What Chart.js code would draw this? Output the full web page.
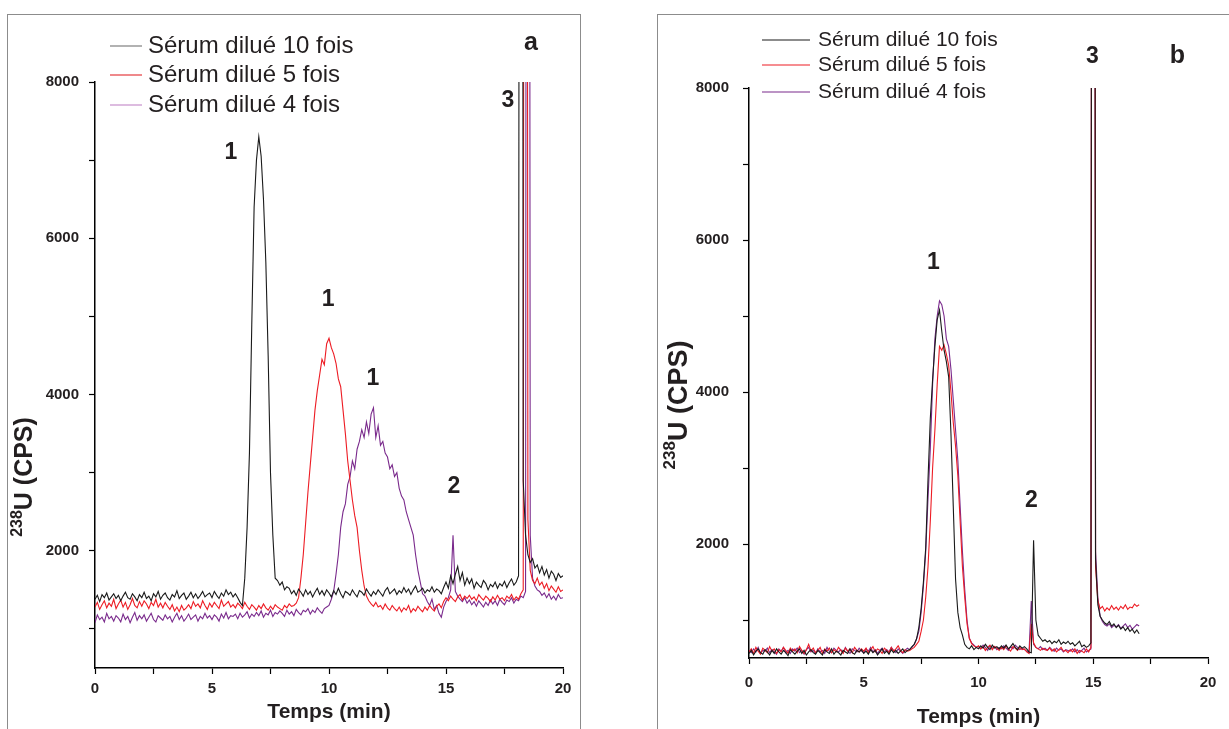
<!DOCTYPE html>
<html>
<head>
<meta charset="utf-8">
<script src="https://cdn.jsdelivr.net/npm/chart.js@4.4.1/dist/chart.umd.min.js"></script>
<style>
  body { margin: 0; background: #fff; width: 1229px; height: 729px; overflow: hidden; position: relative; }
  .panel { position: absolute; top: 14px; height: 740px; border: 1px solid #8c8c8c; }
  #panelA { left: 7px; width: 572px; }
  #panelB { left: 657px; width: 600px; }
  canvas { position: absolute; left: 0; top: 0; }
</style>
</head>
<body>
<div class="panel" id="panelA"><canvas id="chartA" width="570" height="714"></canvas></div>
<div class="panel" id="panelB"><canvas id="chartB" width="571" height="714"></canvas></div>
<script>
// sampling step of the chromatograms, minutes
const STEP = 0.1;
const SERIES = ['Sérum dilué 10 fois', 'Sérum dilué 5 fois', 'Sérum dilué 4 fois'];
const X_TICKS = [0, 2.5, 5, 7.5, 10, 12.5, 15, 17.5, 20];
const Y_TICKS = [1000, 2000, 3000, 4000, 5000, 6000, 7000, 8000];

// panel a, 0 - 20 min
const A_BLACK = [
    1380,1430,1350,1440,1400,1460,1370,1410,1450,1390,
    1430,1360,1420,1470,1400,1380,1450,1410,1360,1440,
    1400,1470,1390,1420,1360,1450,1410,1480,1380,1430,
    1460,1400,1370,1440,1410,1490,1390,1430,1460,1380,
    1420,1470,1400,1450,1390,1430,1480,1410,1440,1460,
    1400,1480,1430,1390,1460,1420,1500,1440,1470,1410,
    1450,1400,1340,1300,1650,2300,3250,4900,6400,7000,
    7300,7050,6500,5700,4500,3000,2200,1650,1620,1560,
    1600,1500,1540,1520,1450,1490,1430,1510,1470,1420,
    1500,1440,1480,1410,1470,1520,1440,1490,1430,1500,
    1460,1410,1490,1440,1520,1450,1400,1480,1460,1430,
    1500,1450,1410,1490,1470,1430,1510,1460,1420,1480,
    1440,1500,1460,1420,1490,1530,1450,1480,1510,1440,
    1490,1460,1530,1470,1510,1440,1500,1550,1470,1490,
    1520,1460,1500,1480,1540,1470,1510,1490,1450,1530,
    1600,1520,1680,1580,1700,1800,1620,1720,1560,1650,
    1580,1640,1520,1600,1560,1530,1620,1580,1500,1570,
    1540,1600,1520,1580,1550,1610,1530,1590,1640,1560,
    1600,1680,40000,2900,2200,1950,1850,1900,1780,1820,
    1720,1800,1690,1760,1650,1740,1700,1620,1710,1660,
    1680
];
const A_RED = [
    1280,1340,1250,1310,1360,1270,1330,1290,1380,1260,
    1320,1370,1280,1340,1250,1310,1390,1300,1270,1350,
    1290,1360,1320,1260,1340,1300,1380,1280,1330,1270,
    1340,1290,1250,1310,1230,1280,1220,1300,1240,1270,
    1310,1260,1350,1290,1320,1270,1360,1300,1250,1330,
    1280,1340,1300,1260,1370,1290,1320,1350,1280,1310,
    1270,1330,1300,1260,1340,1290,1250,1310,1280,1240,
    1300,1260,1320,1270,1240,1290,1250,1310,1280,1260,
    1240,1300,1270,1320,1290,1300,1330,1400,1650,1950,
    2350,2750,3100,3450,3800,4050,4250,4450,4380,4650,
    4720,4600,4520,4400,4200,4100,3800,3500,3150,2900,
    2650,2450,2300,2000,1750,1550,1420,1360,1320,1290,
    1340,1280,1300,1250,1320,1270,1240,1300,1260,1230,
    1280,1220,1270,1240,1300,1210,1260,1230,1290,1250,
    1220,1280,1240,1300,1260,1230,1290,1320,1270,1350,
    1400,1360,1420,1380,1350,1410,1440,1370,1420,1390,
    1430,1380,1410,1360,1440,1400,1370,1420,1390,1350,
    1410,1370,1430,1380,1400,1360,1420,1390,1440,1370,
    1410,1380,1450,1500,40000,2400,1750,1620,1580,1650,
    1560,1600,1520,1580,1490,1550,1510,1470,1540,1480,
    1500
];
const A_PURPLE = [
    1080,1180,1120,1150,1090,1200,1130,1160,1100,1170,
    1140,1090,1190,1120,1160,1080,1150,1210,1110,1170,
    1130,1180,1100,1150,1200,1120,1090,1170,1140,1110,
    1180,1130,1160,1090,1150,1200,1120,1170,1100,1140,
    1190,1120,1150,1180,1100,1160,1130,1200,1140,1170,
    1120,1180,1150,1100,1190,1140,1210,1130,1170,1160,
    1190,1130,1200,1150,1180,1220,1140,1190,1160,1210,
    1170,1230,1150,1200,1180,1240,1160,1210,1190,1230,
    1200,1160,1240,1190,1220,1170,1250,1210,1180,1240,
    1220,1260,1190,1240,1210,1270,1230,1200,1260,1280,
    1300,1380,1480,1700,1950,2300,2500,2600,2850,2950,
    3150,3050,3300,3400,3550,3450,3650,3500,3750,3830,
    3450,3600,3350,3400,3250,3200,3050,3100,2950,3000,
    2800,2700,2650,2500,2400,2300,2200,1950,1750,1600,
    1450,1420,1350,1300,1380,1250,1300,1200,1150,1280,
    1350,1400,1500,2200,1480,1420,1380,1350,1400,1330,
    1370,1310,1350,1290,1360,1320,1280,1340,1300,1370,
    1320,1360,1300,1380,1340,1310,1370,1350,1400,1330,
    1380,1360,1420,1400,1480,40000,2200,1650,1550,1500,
    1480,1430,1460,1400,1450,1380,1420,1370,1440,1390,
    1400
];

// panel b, 0 - 17 min
const B_BLACK = [
    560,600,540,590,620,570,550,610,580,540,
    600,560,620,580,550,600,570,530,610,580,
    550,590,620,560,600,540,580,610,570,550,
    600,570,540,610,580,560,620,550,590,570,
    540,600,580,560,620,570,550,600,580,610,
    560,590,550,610,570,600,540,580,620,560,
    590,550,610,570,600,560,590,620,570,600,
    610,650,680,750,900,1150,1500,1950,2850,3650,
    4166,4600,4950,5080,4800,4550,4400,4200,3450,2500,
    1540,1100,900,800,680,640,620,660,610,640,
    620,660,630,680,640,610,670,630,650,620,
    660,630,670,620,650,690,640,610,660,630,
    650,620,580,570,2050,1000,800,760,720,740,
    710,730,690,720,700,740,680,710,690,720,
    680,700,660,690,720,650,670,640,660,700,
    40000,1800,1200,1050,1000,960,940,980,920,950,
    900,930,880,910,860,900,850,880,830,870,
    820
];
const B_RED = [
    580,620,560,640,590,550,630,600,570,650,
    590,620,560,610,580,640,600,560,630,590,
    620,570,650,600,560,610,680,590,630,570,
    600,640,560,620,590,630,570,610,580,640,
    600,560,630,590,620,570,640,600,580,620,
    590,630,570,610,650,580,620,600,560,630,
    600,570,640,590,620,660,600,570,610,590,
    600,620,640,680,720,850,1000,1300,1700,2300,
    3000,3500,4100,4600,4550,4620,4500,4350,4000,3600,
    3290,2900,2300,1700,1300,950,760,690,660,640,
    660,620,650,600,640,670,610,650,630,600,
    640,610,660,620,590,650,630,600,640,610,
    620,580,560,950,700,640,620,600,630,610,
    600,630,590,620,580,610,640,590,600,570,
    610,580,620,560,600,590,570,620,580,640,
    40000,1700,1250,1150,1180,1120,1160,1130,1190,1140,
    1170,1130,1180,1150,1200,1140,1170,1160,1210,1180,
    1200
];
const B_PURPLE = [
    600,570,620,580,640,560,600,590,630,570,
    610,580,550,620,590,640,570,600,560,620,
    590,630,570,600,550,610,640,580,600,560,
    620,580,600,560,640,590,570,630,600,580,
    610,570,640,590,560,620,600,580,630,590,
    570,620,590,640,580,610,560,600,630,580,
    610,580,640,600,570,620,590,560,600,630,
    610,640,680,750,850,1100,1450,1900,2600,3250,
    4100,4700,5000,5200,5150,5000,4700,4600,4300,3900,
    3500,3100,2500,1900,1400,1000,760,700,670,640,
    650,620,670,640,600,660,630,650,610,640,
    620,660,630,600,650,620,670,640,610,630,
    610,590,570,1250,680,640,620,650,610,630,
    600,640,610,590,630,600,620,580,610,600,
    590,620,580,610,570,600,630,580,600,620,
    40000,1900,1300,1050,980,940,920,950,900,930,
    910,940,890,920,950,900,930,880,910,940,
    920
];

const FONT = 'Arial, "Liberation Sans", sans-serif';
const TEXT = '#231f20';
const COLORS = ['#1a1a1a', '#ed1c24', '#7a2a8c'];

function toPoints(values) {
    return values.map((v, i) => ({ x: Math.round(i * STEP * 10) / 10, y: v }));
}

// legend, peak numbers, panel letter and axis titles drawn over the chart
function decorPlugin(opt) {
    return {
        id: 'decor',
        afterDraw(chart) {
            const ctx = chart.ctx;
            const xs = chart.scales.x, ys = chart.scales.y;
            const area = chart.chartArea;
            ctx.save();
            ctx.fillStyle = TEXT;

            // legend
            ctx.font = opt.legendFont + 'px ' + FONT;
            ctx.textBaseline = 'middle';
            ctx.textAlign = 'left';
            SERIES.forEach((name, i) => {
                const yy = opt.legendY[i];
                ctx.strokeStyle = opt.legendColors[i];
                ctx.lineWidth = 1.2;
                ctx.beginPath();
                ctx.moveTo(opt.legendX[0], yy);
                ctx.lineTo(opt.legendX[1], yy);
                ctx.stroke();
                ctx.fillText(name, opt.legendX[2], yy);
            });

            // peak numbers and panel letter
            ctx.textAlign = 'center';
            opt.marks.forEach(m => {
                ctx.font = 'bold ' + m[3] + 'px ' + FONT;
                ctx.fillText(m[0], xs.getPixelForValue(m[1]), ys.getPixelForValue(m[2]));
            });

            // x title
            ctx.font = 'bold 21px ' + FONT;
            ctx.textBaseline = 'middle';
            ctx.fillText('Temps (min)', (area.left + area.right) / 2, opt.xTitleY);

            // y title with superscript
            const [tx, ty, big, small] = opt.yTitle;
            ctx.translate(tx, ty);
            ctx.rotate(-Math.PI / 2);
            ctx.textAlign = 'left';
            ctx.textBaseline = 'alphabetic';
            ctx.font = 'bold ' + small + 'px ' + FONT;
            const wSup = ctx.measureText('238').width;
            ctx.font = 'bold ' + big + 'px ' + FONT;
            const wMain = ctx.measureText('U (CPS)').width;
            const x0 = -(wSup + wMain) / 2;
            const base = big * 0.36;
            ctx.fillText('U (CPS)', x0 + wSup, base);
            ctx.font = 'bold ' + small + 'px ' + FONT;
            ctx.fillText('238', x0, base - big * 0.42);
            ctx.restore();
        }
    };
}

function makeChart(id, series, opt) {
    const tickFont = { family: FONT, size: 15, weight: 'bold' };
    new Chart(document.getElementById(id), {
        type: 'line',
        data: {
            datasets: series.map((values, i) => ({
                label: SERIES[i],
                data: toPoints(values),
                borderColor: COLORS[i],
                borderWidth: 1.1,
                pointRadius: 0,
                tension: 0,
                fill: false
            }))
        },
        options: {
            responsive: false,
            animation: false,
            devicePixelRatio: 1,
            layout: { padding: { top: opt.top, right: opt.right, left: 0, bottom: 0 } },
            plugins: { legend: { display: false }, tooltip: { enabled: false } },
            scales: {
                x: {
                    type: 'linear',
                    min: 0,
                    max: 20,
                    afterBuildTicks: s => { s.ticks = X_TICKS.map(v => ({ value: v })); },
                    afterFit: s => { s.height = opt.xHeight; },
                    ticks: {
                        callback: v => (v % 5 === 0 ? v : ''),
                        font: tickFont,
                        color: TEXT,
                        padding: opt.xPad,
                        maxRotation: 0,
                        autoSkip: false
                    },
                    grid: { drawOnChartArea: false, tickLength: 6, tickColor: '#000', tickWidth: 1.2 },
                    border: { color: '#000', width: 1.5 }
                },
                y: {
                    min: 500,
                    max: 8000,
                    afterBuildTicks: s => { s.ticks = Y_TICKS.map(v => ({ value: v })); },
                    afterFit: s => { s.width = opt.yWidth; },
                    ticks: {
                        callback: v => (v % 2000 === 0 ? v : ''),
                        font: tickFont,
                        color: TEXT,
                        padding: opt.yPad
                    },
                    grid: { drawOnChartArea: false, tickLength: 6, tickColor: '#000', tickWidth: 1.2 },
                    border: { color: '#000', width: 1.5 }
                }
            }
        },
        plugins: [decorPlugin(opt)]
    });
}

makeChart('chartA', [A_BLACK, A_RED, A_PURPLE], {
    top: 67, right: 15, xHeight: 61, yWidth: 87, xPad: 6, yPad: 10,
    legendFont: 24,
    legendX: [102, 134, 140],
    legendY: [31, 60, 90],
    legendColors: ['#7f7f7f', '#e5393d', '#c78fcb'],
    marks: [
        ['1', 5.81, 7100, 23], ['1', 9.96, 5208, 23], ['1', 11.88, 4197, 23],
        ['2', 15.34, 2815, 23], ['3', 17.65, 7767, 23], ['a', 18.63, 8496, 25]
    ],
    xTitleY: 697,
    yTitle: [15, 462, 25, 16]
});

makeChart('chartB', [B_BLACK, B_RED, B_PURPLE], {
    top: 73, right: 21, xHeight: 71, yWidth: 91, xPad: 10, yPad: 14,
    legendFont: 21,
    legendX: [104, 152, 160],
    legendY: [25, 50, 77],
    legendColors: ['#1a1a1a', '#ed1c24', '#7a2a8c'],
    marks: [
        ['1', 8.03, 5703, 23], ['2', 12.31, 2569, 23], ['3', 14.96, 8416, 23], ['b', 18.67, 8416, 25]
    ],
    xTitleY: 702,
    yTitle: [19, 390, 27, 17]
});
</script>
</body>
</html>
